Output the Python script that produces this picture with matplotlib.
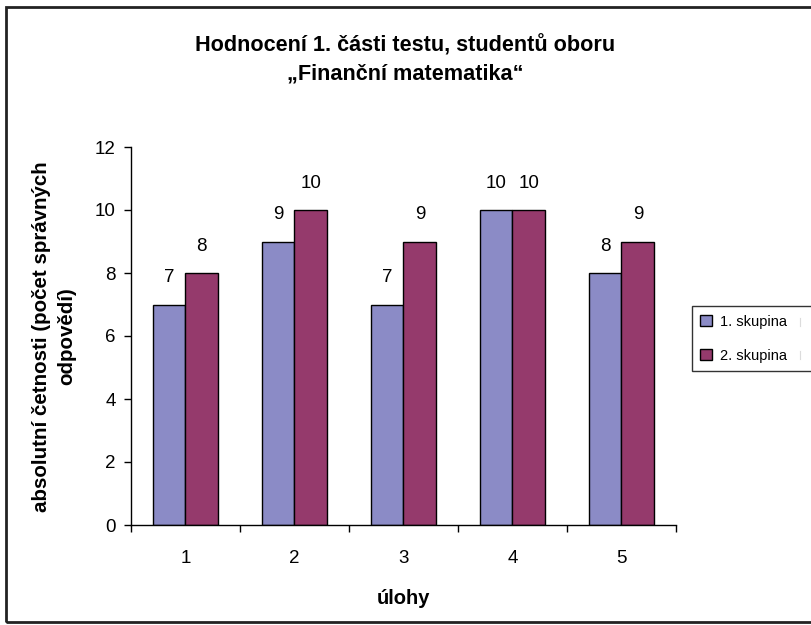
import matplotlib
matplotlib.use("Agg")
import matplotlib.pyplot as plt
from matplotlib.patches import Rectangle
from matplotlib.lines import Line2D
import numpy as np

plt.rcParams['font.family'] = ['Liberation Sans', 'DejaVu Sans']

categories = ['1', '2', '3', '4', '5']
skupina1 = [7, 9, 7, 10, 8]
skupina2 = [8, 10, 9, 10, 9]
series_names = ['1. skupina', '2. skupina']
colors = ['#8B8BC6', '#953A6C']

fig = plt.figure(figsize=(8.11, 6.25), dpi=100)
ax = fig.add_axes([0.1615, 0.16, 0.672, 0.6048])

x = np.arange(len(categories))
w = 0.3
b1 = ax.bar(x - w / 2, skupina1, w, color=colors[0], edgecolor='black', linewidth=1.0, label=series_names[0])
b2 = ax.bar(x + w / 2, skupina2, w, color=colors[1], edgecolor='black', linewidth=1.0, label=series_names[1])
ax.bar_label(b1, padding=13, fontsize=13.5)
ax.bar_label(b2, padding=13, fontsize=13.5)

ax.set_xlim(-0.5, len(categories) - 0.5)
ax.set_ylim(0, 12)
ax.set_yticks(range(0, 13, 2))
ax.set_xticks(x)
ax.set_xticklabels(categories)
ax.tick_params(axis='x', length=0, pad=18, labelsize=13.5)
ax.set_xticks(np.arange(-0.5, len(categories)), minor=True)
ax.tick_params(axis='x', which='minor', length=5, width=1, direction='out')
ax.tick_params(axis='y', length=5, width=1, direction='out', labelsize=13.5, pad=6)
for s in ['top', 'right']:
    ax.spines[s].set_visible(False)
for s in ['left', 'bottom']:
    ax.spines[s].set_linewidth(1.0)
    ax.spines[s].set_color('black')

ax.set_xlabel('úlohy', fontsize=14.5, fontweight='bold', labelpad=16)
fig.text(0.0666, 0.462, 'absolutní četnosti (počet správných\nodpovědí)', rotation=90,
         ha='center', va='center', fontsize=14.8, fontweight='bold', linespacing=1.42)

fig.text(0.5, 0.904, 'Hodnocení 1. části testu, studentů oboru\n„Finanční matematika“',
         ha='center', va='center', fontsize=15.6, fontweight='bold', linespacing=1.45)

leg = fig.legend(handles=[b1, b2], loc='upper left', bbox_to_anchor=(0.853, 0.408, 0.2, 0.102),
                 mode='expand', frameon=True, fancybox=False, edgecolor='black', fontsize=10.5,
                 handlelength=0.78, handleheight=0.78, handletextpad=0.6, labelspacing=1.38,
                 borderaxespad=0, borderpad=0.58)
leg.get_frame().set_linewidth(1.0)

for yy in (322, 355):
    fig.add_artist(Line2D([800 / 811, 800 / 811], [1 - (yy - 4) / 625, 1 - (yy + 4) / 625],
                          transform=fig.transFigure, color='#555555', linewidth=0.8))

fig.patches.append(Rectangle((6 / 811, 3 / 625), 1.0, 1 - 10 / 625, transform=fig.transFigure,
                             fill=False, edgecolor='#222222', linewidth=2.0))

fig.savefig('out.png', dpi=100)
